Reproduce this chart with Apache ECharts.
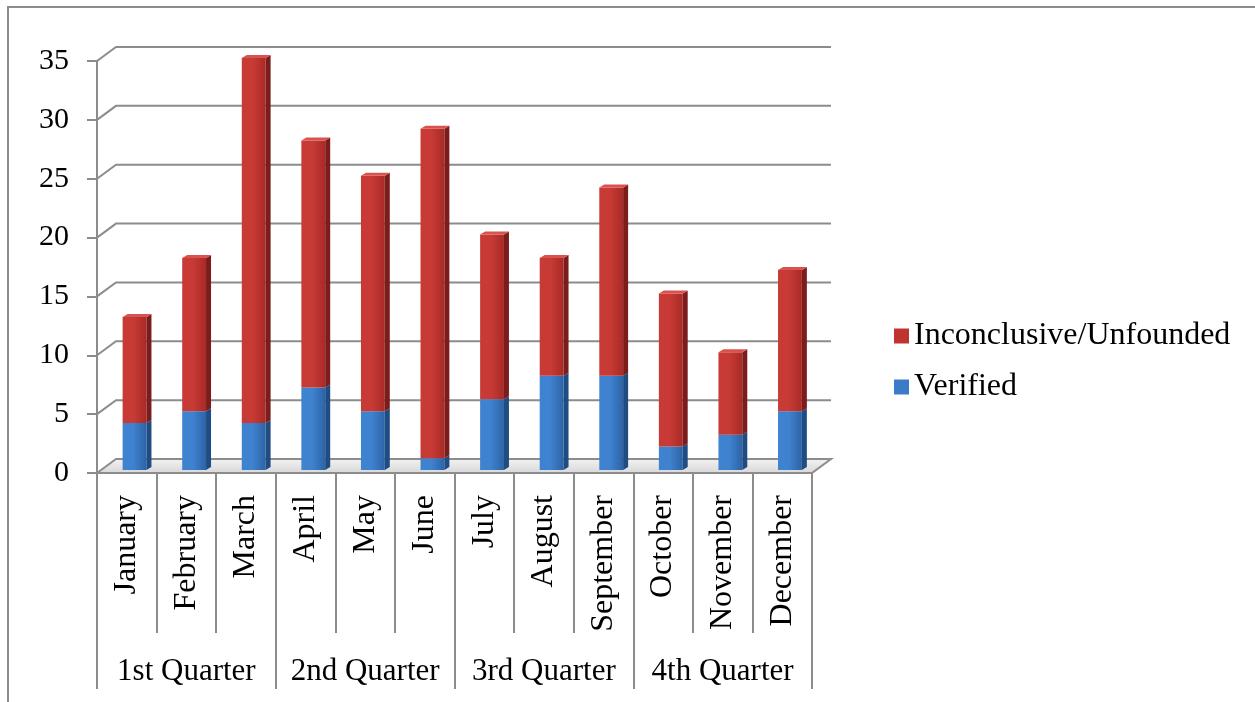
<!DOCTYPE html>
<html>
<head>
<meta charset="utf-8">
<title>Monthly cases</title>
<script src="https://cdn.jsdelivr.net/npm/echarts@6/dist/echarts.min.js"></script>
<style>
  html, body { margin: 0; padding: 0; background: #fff; }
  #chart { width: 1255px; height: 702px; }
</style>
</head>
<body>
<div id="chart"></div>
<script>
var months = ['January', 'February', 'March', 'April', 'May', 'June',
  'July', 'August', 'September', 'October', 'November', 'December'];
var quarters = ['1st Quarter', '2nd Quarter', '3rd Quarter', '4th Quarter'];
var verified = [4, 5, 4, 7, 5, 1, 6, 8, 8, 2, 3, 5];
var inconclusive = [9, 13, 31, 21, 20, 28, 14, 10, 16, 13, 7, 12];
var yTicks = [0, 5, 10, 15, 20, 25, 30, 35];

var FONT = '"Liberation Serif", "Times New Roman", serif';
var GRAY = '#8c8c8c';
// depth of the back wall and of the bars
var WALL_DX = 19, WALL_DY = 14;
var BAR_DX = 5, BAR_DY = 3;

// build [index, low, high] rows for each stack segment
var verifiedRows = verified.map(function (v, i) { return [i, 0, v]; });
var inconclusiveRows = inconclusive.map(function (v, i) {
  return [i, verified[i], verified[i] + v];
});

function wallItem(params, api) {
  var cs = params.coordSys;
  var v = api.value(0);
  var y = api.coord([0, v])[1];
  var x0 = cs.x, x1 = cs.x + cs.width;
  if (v === 0) {
    return {
      type: 'polygon',
      shape: { points: [[x0, y], [x0 + WALL_DX, y - WALL_DY], [x1 + WALL_DX, y - WALL_DY], [x1, y]] },
      style: {
        fill: new echarts.graphic.LinearGradient(0, 0, 0, 1, [
          { offset: 0, color: '#f4f4f4' },
          { offset: 1, color: '#d6d6d6' }
        ]),
        stroke: GRAY,
        lineWidth: 2
      }
    };
  }
  return {
    type: 'polyline',
    shape: { points: [[x0, y], [x0 + WALL_DX, y - WALL_DY], [x1 + WALL_DX, y - WALL_DY]] },
    style: { fill: null, stroke: GRAY, lineWidth: 2 }
  };
}

function makeBarItem(front, frontDark, side, top, hasTop) {
  return function (params, api) {
    var i = api.value(0);
    var lo = api.value(1);
    var hi = api.value(2);
    var band = api.size([1, 0])[0];
    var cx = api.coord([i, 0])[0];
    var yLo = api.coord([i, lo])[1] - BAR_DY;
    var yHi = api.coord([i, hi])[1] - BAR_DY;
    var l = cx - band * 0.07;
    var w = band * 0.4;
    var r = l + w;
    var children = [
      {
        type: 'rect',
        shape: { x: l, y: yHi, width: w, height: yLo - yHi },
        style: {
          fill: new echarts.graphic.LinearGradient(0, 0, 1, 0, [
            { offset: 0, color: front },
            { offset: 0.45, color: front },
            { offset: 1, color: frontDark }
          ])
        }
      },
      {
        type: 'polygon',
        shape: { points: [[r, yHi], [r + BAR_DX, yHi - BAR_DY], [r + BAR_DX, yLo - BAR_DY], [r, yLo]] },
        style: { fill: side }
      }
    ];
    if (hasTop) {
      children.push({
        type: 'polygon',
        shape: { points: [[l, yHi], [l + BAR_DX, yHi - BAR_DY], [r + BAR_DX, yHi - BAR_DY], [r, yHi]] },
        style: { fill: top }
      });
    }
    return { type: 'group', children: children };
  };
}

var chart = echarts.init(document.getElementById('chart'));

var option = {
  animation: false,
  backgroundColor: '#fff',
  graphic: [{
    type: 'polyline',
    shape: { points: [[8, 710], [8, 7], [1260, 7]] },
    style: { fill: null, stroke: GRAY, lineWidth: 2 },
    z: -1
  }],
  legend: {
    orient: 'vertical',
    left: 889,
    top: 315,
    itemWidth: 15,
    itemHeight: 15,
    itemGap: 19,
    icon: 'rect',
    data: ['Inconclusive/Unfounded', 'Verified'],
    textStyle: { fontFamily: FONT, fontSize: 32, lineHeight: 32, color: '#000' }
  },
  grid: {
    left: 97,
    right: 443,
    top: 61,
    bottom: 229
  },
  xAxis: [
    {
      type: 'category',
      data: months,
      position: 'bottom',
      axisLine: { lineStyle: { color: GRAY, width: 2 } },
      axisTick: { show: true, interval: 0, length: 160, lineStyle: { color: GRAY, width: 2 } },
      axisLabel: {
        interval: 0,
        rotate: 90,
        margin: 22,
        fontFamily: FONT,
        fontSize: 32,
        color: '#000'
      }
    },
    {
      type: 'category',
      data: quarters,
      position: 'bottom',
      axisLine: { lineStyle: { color: GRAY, width: 2 } },
      axisTick: { show: true, interval: 0, length: 216, lineStyle: { color: GRAY, width: 2 } },
      axisLabel: {
        interval: 0,
        margin: 183,
        fontFamily: FONT,
        fontSize: 31,
        color: '#000'
      }
    }
  ],
  yAxis: {
    type: 'value',
    min: 0,
    max: 35,
    interval: 5,
    axisLine: { show: true, lineStyle: { color: GRAY, width: 2 } },
    axisTick: { show: true, length: 10, lineStyle: { color: GRAY, width: 2 } },
    splitLine: { show: false },
    axisLabel: { margin: 28, fontFamily: FONT, fontSize: 30, color: '#000' }
  },
  series: [
    {
      type: 'custom',
      name: 'walls',
      xAxisIndex: 0,
      z: 1,
      silent: true,
      data: yTicks.map(function (v) { return [v]; }),
      encode: { y: 0 },
      renderItem: wallItem
    },
    {
      type: 'custom',
      name: 'Verified',
      xAxisIndex: 0,
      z: 3,
      itemStyle: { color: '#3b7bc8' },
      data: verifiedRows,
      encode: { x: 0, y: [1, 2] },
      renderItem: makeBarItem('#3f82cf', '#2d63a6', '#1f4c82', '#5a96d8', false)
    },
    {
      type: 'custom',
      name: 'Inconclusive/Unfounded',
      xAxisIndex: 0,
      z: 3,
      itemStyle: { color: '#c0342f' },
      data: inconclusiveRows,
      encode: { x: 0, y: [1, 2] },
      renderItem: makeBarItem('#c83a35', '#a82a27', '#7c1d1b', '#d9534e', true)
    }
  ]
};

chart.setOption(option);
</script>
</body>
</html>
